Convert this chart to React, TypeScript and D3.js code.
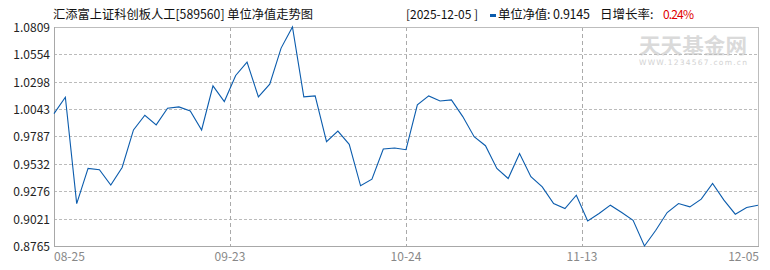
import React from "react";
import * as d3 from "d3";

const navValues = [
  1.0, 1.0154, 0.9161, 0.9489, 0.9477, 0.9333, 0.9498, 0.9848, 0.9985, 0.9895,
  1.0051, 1.0063, 1.0026, 0.9848, 1.026, 1.0113, 1.0357, 1.0481, 1.0157, 1.0275,
  1.0612, 1.0809, 1.0157, 1.0166, 0.9739, 0.9838, 0.9714, 0.9327, 0.9389, 0.967,
  0.9679, 0.9664, 1.0082, 1.0166, 1.0119, 1.0129, 0.9973, 0.9785, 0.9701, 0.9489,
  0.9395, 0.9629, 0.9411, 0.9317, 0.9161, 0.9115, 0.9239, 0.8999, 0.9068, 0.9146,
  0.9077, 0.9005, 0.8765, 0.8912, 0.9077, 0.9161, 0.913, 0.9202, 0.9349, 0.9193,
  0.9062, 0.9124, 0.9145,
];
const xTickLabels = ["08-25", "09-23", "10-24", "11-13", "12-05"];
const yTickValues = [1.0809, 1.0554, 1.0298, 1.0043, 0.9787, 0.9532, 0.9276, 0.9021, 0.8765];

const title = "汇添富上证科创板人工[589560] 单位净值走势图";
const dateText = "[2025-12-05 ]";
const navLabel = "单位净值: 0.9145";
const changeLabel = "日增长率: ";
const changeValue = "0.24%";

const L = 54, R = 758, T = 27, B = 246;
const font = "'Noto Sans CJK SC', 'Noto Sans', sans-serif";

export default function App() {
  const x = d3.scaleLinear().domain([0, navValues.length - 1]).range([L, R]);
  const y = d3.scaleLinear().domain([0.8765, 1.0809]).range([B, T]);
  const line = d3
    .line<number>()
    .x((_, i) => x(i))
    .y((d) => y(d));
  const n = navValues.length - 1;
  const tickX = xTickLabels.map((_, k) => x((k * n) / 4));
  const gridColor = "#bbbbbb";

  return (
    <svg
      width={770}
      height={270}
      style={{ position: "absolute", left: 0, top: 0, background: "#fff" }}
      fontFamily={font}
    >
      <rect x={0} y={0} width={770} height={270} fill="#fff" />
      {/* watermark */}
      <text x={639} y={53} fontSize={21} fontWeight="bold" fill="#dadada" textLength={108} lengthAdjust="spacingAndGlyphs">
        天天基金网
      </text>
      <text x={639} y={65} fontSize={7.5} fill="#d2d2d2" fontFamily="'DejaVu Sans', sans-serif" textLength={108} lengthAdjust="spacing">
        WWW.1234567.com.cn
      </text>

      {/* horizontal grid */}
      {yTickValues.slice(1, -1).map((v) => {
        const yy = Math.round(y(v)) + 0.5;
        return <line key={v} x1={L} x2={R} y1={yy} y2={yy} stroke={gridColor} strokeDasharray="3,2" />;
      })}
      {/* vertical grid */}
      {tickX.slice(1, -1).map((xx, k) => {
        const px = Math.round(xx) + 0.5;
        return <line key={k} x1={px} x2={px} y1={T} y2={B} stroke="#aaaaaa" strokeDasharray="4,3" />;
      })}
      {/* frame */}
      <rect x={L + 0.5} y={T + 0.5} width={R - L} height={B - T} fill="none" stroke="#bdbdbd" />
      <line x1={L + 0.5} x2={L + 0.5} y1={T} y2={B + 1} stroke="#a8a8a8" />
      <line x1={L} x2={R + 1} y1={B + 0.5} y2={B + 0.5} stroke="#a8a8a8" />

      {/* line */}
      <path d={line(navValues) || ""} fill="none" stroke="#0b5cad" strokeWidth={1.1} />

      {/* y labels */}
      {yTickValues.map((v) => (
        <text key={v} x={50} y={Math.round(y(v)) + 4.5} fontSize={12} textAnchor="end" fill="#222">
          {v.toFixed(4)}
        </text>
      ))}
      {/* x labels */}
      {xTickLabels.map((lab, k) => (
        <text
          key={lab}
          x={k === 0 ? L : k === 4 ? R + 1 : tickX[k]}
          y={261}
          fontSize={12}
          fill="#888"
          textAnchor={k === 0 ? "start" : k === 4 ? "end" : "middle"}
        >
          {lab}
        </text>
      ))}

      {/* header */}
      <text x={53} y={19} fontSize={12.5} fill="#111" textLength={260} lengthAdjust="spacingAndGlyphs">
        {title}
      </text>
      <text x={406} y={19} fontSize={12} fill="#111" textLength={72} lengthAdjust="spacing">
        {dateText}
      </text>
      <rect x={490} y={14} width={6} height={3} fill="#0b5cad" />
      <text x={498} y={19} fontSize={12.5} fill="#111" textLength={92} lengthAdjust="spacing">
        {navLabel}
      </text>
      <text x={600} y={19} fontSize={12.5} fill="#111">
        {changeLabel}
      </text>
      <text x={663} y={19} fontSize={12} fill="#e00000" textLength={31} lengthAdjust="spacing">
        {changeValue}
      </text>
    </svg>
  );
}
